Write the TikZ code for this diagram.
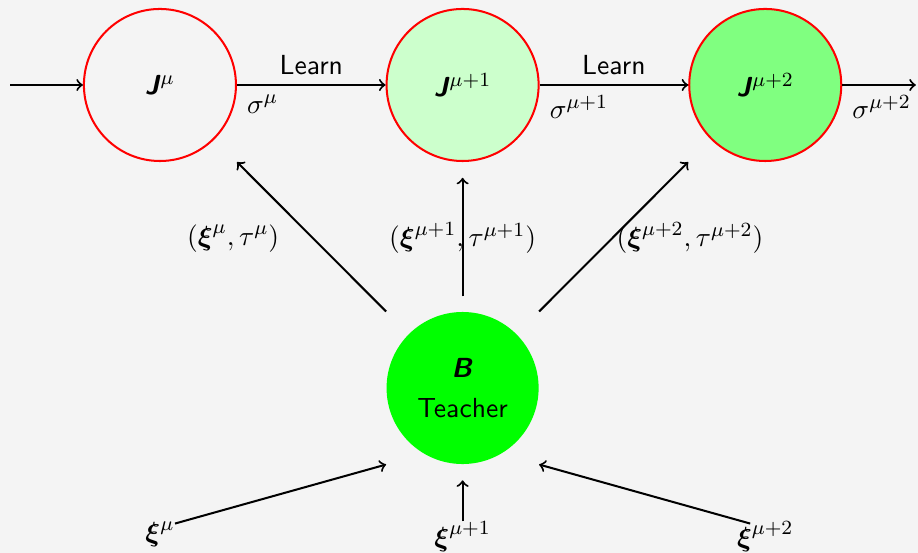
\documentclass[tikz,border=0pt,11pt]{standalone}
\definecolor{fondo}{RGB}{244,244,244}
\usepackage{amsmath, amssymb}
\usepackage{tikz}
\newcommand{\vJ}{\textbf{\textit{J}}}
\newcommand{\vB}{\textbf{\textit{B}}}

\begin{document}
\begin{tikzpicture}[every node/.style={font=\sffamily}, >=to]
  % Fondo de la diapositiva
  \fill[fondo] (0,0) rectangle (12.8,-7.71);
  \useasboundingbox (0,0) rectangle (12.8,-7.71);
  % Nodos J (arriba)
  \foreach \i/\x/\col/\e in {1/2.23/fondo/\mu, 2/6.45/green!20/\mu+1, 3/10.67/green!50/\mu+2} {
    \node[draw=red, thick, circle, fill=\col, minimum size=2.12cm] (J\i) at (\x, -1.185) {\vJ$^{\e}$};
  }
  % Nodo del profesor
  \node[circle, fill=green, minimum size=2.12cm, align=center] (B) at (6.45, -5.41) {\vB\\[2pt]Teacher};
  % Ejemplos xi (abajo)
  \foreach \i/\x/\e in {1/2.23/\mu, 2/6.45/\mu+1, 3/10.67/\mu+2} {
    \node[inner sep=0pt, anchor=north] (xi\i) at (\x, -7.27) {$\boldsymbol{\xi}^{\e}$};
  }
  % Cadena de aprendizaje
  \coordinate (ini) at (0.14, -1.185);
  \coordinate (fin) at (12.77, -1.185);
  \draw[->, thick] (ini) -- (J1);
  \draw[->, thick] (J1) -- node[above] {Learn} node[pos=0, below right] {$\sigma^{\mu}$} (J2);
  \draw[->, thick] (J2) -- node[above] {Learn} node[pos=0, below right] {$\sigma^{\mu+1}$} (J3);
  \draw[->, thick] (J3) -- node[pos=0, below right] {$\sigma^{\mu+2}$} (fin);
  % Del profesor a los alumnos
  \draw[->, thick] (B.west |- B.north) -- (J1.east |- J1.south);
  \draw[->, thick, shorten <=0.21cm, shorten >=0.22cm] (B.north) -- (J2.south);
  \draw[->, thick] (B.east |- B.north) -- (J3.west |- J3.south);
  % Etiquetas de los pares
  \node (p1) at (3.25, -3.32) {$(\boldsymbol{\xi}^{\mu}, \tau^{\mu})$};
  \node (p2) at (6.45, -3.32) {$(\boldsymbol{\xi}^{\mu+1}, \tau^{\mu+1})$};
  \node (p3) at (9.62, -3.32) {$(\boldsymbol{\xi}^{\mu+2}, \tau^{\mu+2})$};
  % De los ejemplos al profesor
  \draw[->, thick] ([xshift=0.21cm, yshift=-0.03cm]xi1.north) -- (B.west |- B.south);
  \draw[->, thick, shorten >=0.22cm] (xi2.north) -- (B.south);
  \draw[->, thick] ([xshift=-0.21cm, yshift=-0.03cm]xi3.north) -- (B.east |- B.south);
\end{tikzpicture}
\end{document}
